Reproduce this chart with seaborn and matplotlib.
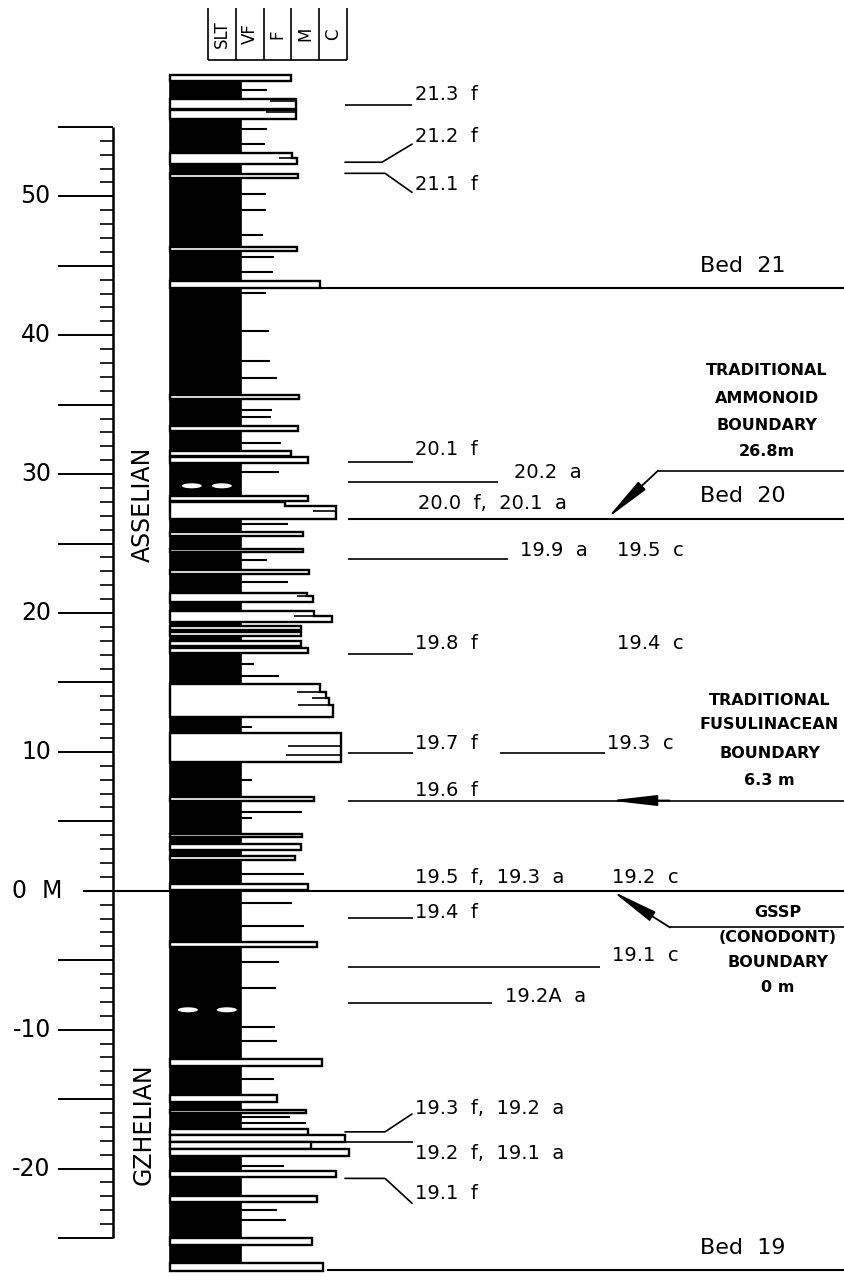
import matplotlib
matplotlib.use("Agg")
import matplotlib.pyplot as plt
from matplotlib.patches import Polygon, Ellipse, Rectangle
import seaborn as sns

sns.set_theme(style="white")
plt.rcParams["font.family"] = ["DejaVu Sans"]
plt.rcParams["text.color"] = "black"

# ---- data (metres, grain size: SLT=1 VF=2 F=3 M=4 C=5) ----
col_left = -1.35
mud_edge = 1.19
mud_base = -26.79
mud_top = 58.32

# sandstone beds: base and a list of (top, grain) steps going up
sand_base = [58.32, 56.30, 55.57, 52.32, 51.30, 46.09, 43.42, 35.38, 33.14, 31.33,
             30.82, 28.08, 26.80, 25.54, 24.38, 22.79, 20.77, 19.32, 18.81, 18.31,
             17.66, 17.15, 12.52, 9.26, 6.44, 3.84, 2.97, 2.24, 0.05, -4.07,
             -12.64, -15.21, -16.00, -17.57, -18.07, -18.57, -19.07, -20.64, -22.43, -25.50,
             -27.36]
sand_steps = [
    [(58.76, 2.99)], [(57.02, 3.17)], [(56.22, 3.17)], [(52.75, 3.21), (53.13, 3.01)],
    [(51.59, 3.25)], [(46.38, 3.19)], [(43.92, 4.03)], [(35.67, 3.29)], [(33.50, 3.23)],
    [(31.69, 2.99)], [(31.26, 3.59)], [(28.44, 3.61)], [(27.71, 4.59), (28.00, 2.77)],
    [(25.83, 3.43)], [(24.60, 3.43)], [(23.08, 3.63)], [(21.20, 3.79), (21.42, 3.55)],
    [(19.75, 4.45), (20.12, 3.81)], [(19.10, 3.33)], [(18.60, 3.33)], [(17.95, 3.33)],
    [(17.51, 3.61)], [(13.39, 4.51), (13.89, 4.36), (14.33, 4.24), (14.91, 4.03)],
    [(11.36, 4.78)], [(6.73, 3.81)], [(4.12, 3.37)], [(3.40, 3.35)], [(2.53, 3.13)],
    [(0.51, 3.61)], [(-3.71, 3.91)], [(-12.14, 4.09)], [(-14.71, 2.47)], [(-15.79, 3.51)],
    [(-17.14, 3.60)], [(-17.57, 4.93)], [(-18.07, 3.71)], [(-18.57, 5.07)], [(-20.21, 4.59)],
    [(-22.00, 3.94)], [(-25.00, 3.73)], [(-26.79, 4.14)],
]
# internal laminae inside sandstones: level, from grain, to grain
lam_level = [56.87, 56.08, 52.75, 27.35, 21.20, 19.75, 14.33, 13.89, 13.39, 10.42, 9.77]
lam_from = [2.23, 2.09, 2.55, 3.78, 3.20, 3.09, 3.20, 3.74, 3.24, 2.88, 2.81]
lam_to = [3.17, 3.17, 3.01, 4.59, 3.55, 3.81, 4.03, 4.24, 4.36, 4.78, 4.78]

# thin silty interbeds in the mudstone: level, grain reached
rib_level = [57.67, 54.85, 53.76, 50.14, 48.99, 47.25, 45.66, 44.57, 43.05, 40.30,
             38.13, 36.90, 34.59, 34.15, 32.27, 30.17, 26.41, 23.81, 22.21, 16.35,
             15.48, 11.79, 7.96, 5.64, 5.21, 1.23, -0.86, -2.57, -5.14, -7.00,
             -9.79, -10.79, -13.57, -16.29, -16.71, -19.79, -23.00, -23.71]
rib_grain = [2.12, 2.12, 2.05, 2.09, 2.09, 1.99, 2.37, 2.35, 2.09, 2.19,
             2.23, 2.47, 2.31, 2.27, 2.63, 2.57, 2.87, 2.13, 2.89, 1.67,
             2.57, 1.57, 1.57, 3.37, 1.57, 3.45, 3.03, 3.45, 2.57, 2.45,
             2.41, 2.47, 2.37, 2.95, 3.51, 2.74, 2.49, 2.79]

nodule_level = [29.16, 29.16, -8.57, -8.57]
nodule_pos = [-0.58, 0.50, -0.72, 0.68]

grain_names = ["SLT", "VF", "F", "M", "C"]

bed_names = ["Bed  21", "Bed  20", "Bed  19"]
bed_level = [43.42, 26.80, -27.29]
bed_from = [4.03, 5.04, 4.28]

# sample collections (f = fusulinid, a = ammonoid, c = conodont)
sample_text = ["21.3  f", "21.2  f", "21.1  f", "20.1  f", "20.2  a", "20.0  f,  20.1  a",
               "19.9  a", "19.5  c", "19.8  f", "19.4  c", "19.7  f", "19.3  c", "19.6  f",
               "19.5  f,  19.3  a", "19.2  c", "19.4  f", "19.1  c", "19.2A  a",
               "19.3  f,  19.2  a", "19.2  f,  19.1  a", "19.1  f"]
sample_y = [57.31, 54.34, 50.87, 31.77, 30.10, 27.86, 24.53, 24.53, 17.80, 17.80,
            10.60, 10.60, 7.24, 0.94, 0.94, -1.57, -4.64, -7.64, -15.71, -18.93, -21.79]
sample_x = [7.45, 7.45, 7.45, 7.45, 11.0, 7.55, 11.22, 14.71, 7.45, 14.71,
            7.45, 14.35, 7.45, 7.45, 14.53, 7.45, 14.53, 10.68, 7.45, 7.45, 7.45]

# straight leaders: level, start grain, end grain
lead_level = [56.58, 30.90, 29.45, 23.88, 17.08, 9.90, 9.90, -1.93, -5.50, -8.07, -18.07]
lead_from = [4.93, 5.04, 5.04, 5.04, 5.04, 5.04, 10.50, 5.04, 5.04, 5.04, 3.71]
lead_to = [7.34, 7.37, 10.43, 10.79, 7.37, 7.37, 14.28, 7.37, 14.10, 10.22, 7.37]
# dog-leg leaders: level, knee grain, end level
dog_level = [52.46, 51.66, -17.36, -20.71]
dog_knee = [6.26, 6.37, 6.37, 6.37]
dog_end = [53.76, 50.29, -16.07, -22.50]

boundary_lines = [["TRADITIONAL", "AMMONOID", "BOUNDARY", "26.8m"],
                  ["TRADITIONAL", "FUSULINACEAN", "BOUNDARY", "6.3 m"],
                  ["GSSP", "(CONODONT)", "BOUNDARY", "0 m"]]
boundary_level = [26.8, 6.5, 0.0]

# ---- figure ----
fig = plt.figure(figsize=(8.44, 12.77), dpi=100)
ax = fig.add_axes([0, 0, 1, 1])
ax.set_xlim(-7.48, 22.88)
ax.set_ylim(-27.81, 64.14)
ax.axis("off")
right = 22.88
k = dict(color="black", lw=1.2)

# metre scale
ax.vlines(-3.42, -25, 55, color="black", lw=1.8)
for v in range(-25, 56):
    if v == 0:
        continue
    if v % 5 == 0:
        ax.hlines(v, -5.40, -3.42, color="black", lw=1.4)
    else:
        ax.hlines(v, -3.90, -3.42, color="black", lw=1.2)
    if v % 10 == 0:
        ax.text(-5.65, v, str(v), ha="right", va="center", fontsize=17)
ax.text(-5.22, 0, "0  M", ha="right", va="center", fontsize=17)
ax.hlines(0, -4.50, right, color="black", lw=1.5)

ax.text(-2.34, 27.86, "ASSELIAN", rotation=90, ha="center", va="center", fontsize=17)
ax.text(-2.30, -16.8, "GZHELIAN", rotation=90, ha="center", va="center", fontsize=17)

# grain size header
ax.vlines(range(6), 59.83, 63.56, color="black", lw=1.2)
ax.hlines(59.83, 0, 5, color="black", lw=1.2)
for i, g in enumerate(grain_names):
    ax.text(i + 0.5, 61.7, g, rotation=90, ha="center", va="center", fontsize=12)

# lithologic column
ax.add_patch(Rectangle((col_left, mud_base), mud_edge - col_left, mud_top - mud_base,
                       fc="black", ec="black", lw=1.2, zorder=2))
ax.hlines(rib_level, mud_edge, rib_grain, color="black", lw=1.5, zorder=2)
for base, steps in zip(sand_base, sand_steps):
    pts = [(col_left, base)]
    y0 = base
    for top, g in steps:
        pts += [(g, y0), (g, top)]
        y0 = top
    pts.append((col_left, y0))
    ax.add_patch(Polygon(pts, closed=True, fc="white", ec="black", lw=1.7,
                         joinstyle="miter", zorder=3))
ax.hlines(lam_level, lam_from, lam_to, color="black", lw=1.2, zorder=4)
for lv, x in zip(nodule_level, nodule_pos):
    ax.add_patch(Ellipse((x, lv), 0.72, 0.36, fc="white", ec="none", zorder=4))

# bed boundaries
for name, lv, x0 in zip(bed_names, bed_level, bed_from):
    ax.hlines(lv, x0, right, color="black", lw=1.5)
    ax.text(17.7, lv + 1.6, name, ha="left", va="center", fontsize=16)

# sample leaders and labels
ax.hlines(lead_level, lead_from, lead_to, **k)
for lv, knee, end in zip(dog_level, dog_knee, dog_end):
    ax.plot([4.93, knee, 7.34], [lv, lv, end], **k)
for t, x, y in zip(sample_text, sample_x, sample_y):
    ax.text(x, y, t, ha="left", va="center", fontsize=14)

# boundary arrows
head = dict(arrowstyle="-|>,head_length=0.95,head_width=0.11", color="black", lw=1.3,
            mutation_scale=30, shrinkA=0, shrinkB=0)
ax.plot([right, 16.19], [30.25, 30.25], **k)
ax.annotate("", xy=(14.35, boundary_level[0]), xytext=(16.19, 30.25), arrowprops=head)
ax.hlines(boundary_level[1], 5.04, right, **k)
ax.annotate("", xy=(14.46, boundary_level[1]), xytext=(16.6, boundary_level[1]), arrowprops=head)
ax.plot([right, 16.62], [-2.64, -2.64], **k)
ax.annotate("", xy=(14.53, boundary_level[2]), xytext=(16.62, -2.64), arrowprops=head)

box_x = [20.1, 20.2, 20.5]
box_y = [[37.48, 35.46, 33.50, 31.62], [13.68, 11.94, 9.91, 7.96], [-1.57, -3.36, -5.14, -7.0]]
for lines, x, ys in zip(boundary_lines, box_x, box_y):
    for t, y in zip(lines, ys):
        ax.text(x, y, t, ha="center", va="center", fontsize=11.5, fontweight="bold")

fig.savefig("out.png", dpi=100)
